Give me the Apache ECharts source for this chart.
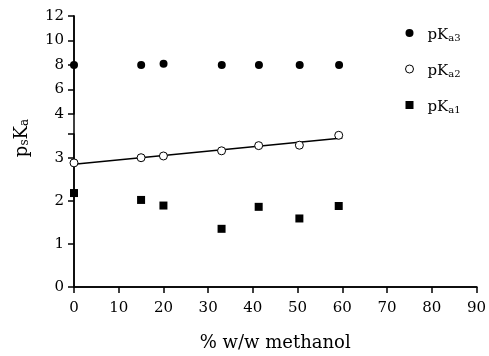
<!DOCTYPE html>
<html><head><meta charset="utf-8">
<script src="https://cdn.jsdelivr.net/npm/echarts@6/dist/echarts.min.js"></script>
<style>html,body{margin:0;padding:0;background:#fff}#c{width:489px;height:356px}</style>
</head><body><div id="c"></div>
<script>
const methanolPct = [0, 15, 20, 33, 41.3, 50.4, 59.2];
const pKa3 = [8.0, 8.0, 8.1, 8.0, 8.0, 8.0, 8.0];
const pKa2 = [2.88, 3.00, 3.04, 3.16, 3.28, 3.29, 3.52];
const pKa1 = [2.18, 2.02, 1.89, 1.35, 1.86, 1.59, 1.88];
const fitLineX = [0, 60];
const fitLineY = [2.85, 3.46];
const xTicks = [0, 10, 20, 30, 40, 50, 60, 70, 80, 90];
const upperTicks = [4, 6, 8, 10, 12];
const lowerTicks = [0, 1, 2, 3];
const lowerAxisTop = 3.55;

const FONT = 'DejaVu Serif';
const pair = (xs, ys) => xs.map((x, i) => [x, ys[i]]);
const chart = echarts.init(document.getElementById('c'), null, {renderer: 'canvas'});
const lineStyle = {color: '#000', width: 1.5};
const tickStyle = {show: true, inside: false, length: 6, lineStyle: {color: '#000', width: 1.5}};
const labelStyle = {color: '#000', fontFamily: FONT, fontSize: 15};

chart.setOption({
  animation: false,
  backgroundColor: '#fff',
  grid: [
    {left: 74, right: 12, top: 16, bottom: 242},
    {left: 74, right: 12, top: 134, bottom: 69},
    {left: 74, right: 12, top: 16, bottom: 69}
  ],
  xAxis: [
    {gridIndex: 0, type: 'value', min: 0, max: 90, show: false},
    {gridIndex: 1, type: 'value', min: 0, max: 90, interval: 10,
     axisLine: {show: true, onZero: false, lineStyle},
     axisTick: {...tickStyle, customValues: xTicks},
     axisLabel: {...labelStyle, margin: 14, customValues: xTicks},
     splitLine: {show: false},
     name: '% w/w methanol', nameLocation: 'middle', nameGap: 47,
     nameTextStyle: {color: '#000', fontFamily: FONT, fontSize: 18}},
    {gridIndex: 2, type: 'value', min: 0, max: 90, position: 'top',
     axisLine: {show: true, lineStyle}, axisTick: {show: false},
     axisLabel: {show: false}, splitLine: {show: false}}
  ],
  yAxis: [
    {gridIndex: 0, type: 'value', min: 4, max: 12, interval: 2,
     axisLine: {show: true, onZero: false, lineStyle},
     axisTick: {...tickStyle, customValues: upperTicks},
     axisLabel: {...labelStyle, margin: 10, customValues: upperTicks},
     splitLine: {show: false}},
    {gridIndex: 1, type: 'value', min: 0, max: lowerAxisTop, interval: 1,
     axisLine: {show: true, onZero: false, lineStyle},
     axisTick: {...tickStyle, customValues: lowerTicks.concat([lowerAxisTop])},
     axisLabel: {...labelStyle, margin: 10, customValues: lowerTicks},
     splitLine: {show: false}},
    {gridIndex: 2, type: 'value', min: 0, max: 1, position: 'right',
     axisLine: {show: true, lineStyle}, axisTick: {show: false},
     axisLabel: {show: false}, splitLine: {show: false}}
  ],
  legend: {
    orient: 'vertical', left: 400, top: 22, itemGap: 20,
    itemWidth: 8, itemHeight: 8,
    data: [
      {name: 'pKa3', icon: 'circle', itemStyle: {color: '#000'}},
      {name: 'pKa2', icon: 'circle', itemStyle: {color: '#fff', borderColor: '#000', borderWidth: 1}},
      {name: 'pKa1', icon: 'rect', itemStyle: {color: '#000'}}
    ],
    formatter: n => '{g|}{p|pK}{s|' + n.slice(2) + '}',
    textStyle: {
      color: '#000', fontFamily: FONT,
      rich: {
        g: {width: 9},
        p: {fontFamily: FONT, fontSize: 15, color: '#000', lineHeight: 20, verticalAlign: 'bottom'},
        s: {fontFamily: FONT, fontSize: 10, color: '#000', lineHeight: 12, padding: [6, 0, 0, 0], verticalAlign: 'bottom'}
      }
    }
  },
  graphic: [{
    type: 'text', x: 20, y: 138, rotation: Math.PI / 2,
    style: {
      text: '{p|p}{s|s}{p|K}{s|a}', align: 'center', verticalAlign: 'middle',
      rich: {
        p: {fontFamily: FONT, fontSize: 18, fill: '#000', lineHeight: 22, verticalAlign: 'bottom'},
        s: {fontFamily: FONT, fontSize: 12, fill: '#000', lineHeight: 14, padding: [7, 0, 0, 0], verticalAlign: 'bottom'}
      }
    }
  }],
  series: [
    {name: 'fit', type: 'line', xAxisIndex: 1, yAxisIndex: 1, data: pair(fitLineX, fitLineY),
     showSymbol: false, symbol: 'none', lineStyle: {color: '#000', width: 1.5}, z: 2, silent: true},
    {name: 'pKa3', type: 'scatter', xAxisIndex: 0, yAxisIndex: 0, data: pair(methanolPct, pKa3),
     symbol: 'circle', symbolSize: 8, itemStyle: {color: '#000', opacity: 1}, z: 5},
    {name: 'pKa2', type: 'scatter', xAxisIndex: 1, yAxisIndex: 1, data: pair(methanolPct, pKa2),
     symbol: 'circle', symbolSize: 8, itemStyle: {color: '#fff', borderColor: '#000', borderWidth: 1, opacity: 1}, z: 5},
    {name: 'pKa1', type: 'scatter', xAxisIndex: 1, yAxisIndex: 1, data: pair(methanolPct, pKa1),
     symbol: 'rect', symbolSize: 8, itemStyle: {color: '#000', opacity: 1}, z: 5}
  ]
});
</script></body></html>
